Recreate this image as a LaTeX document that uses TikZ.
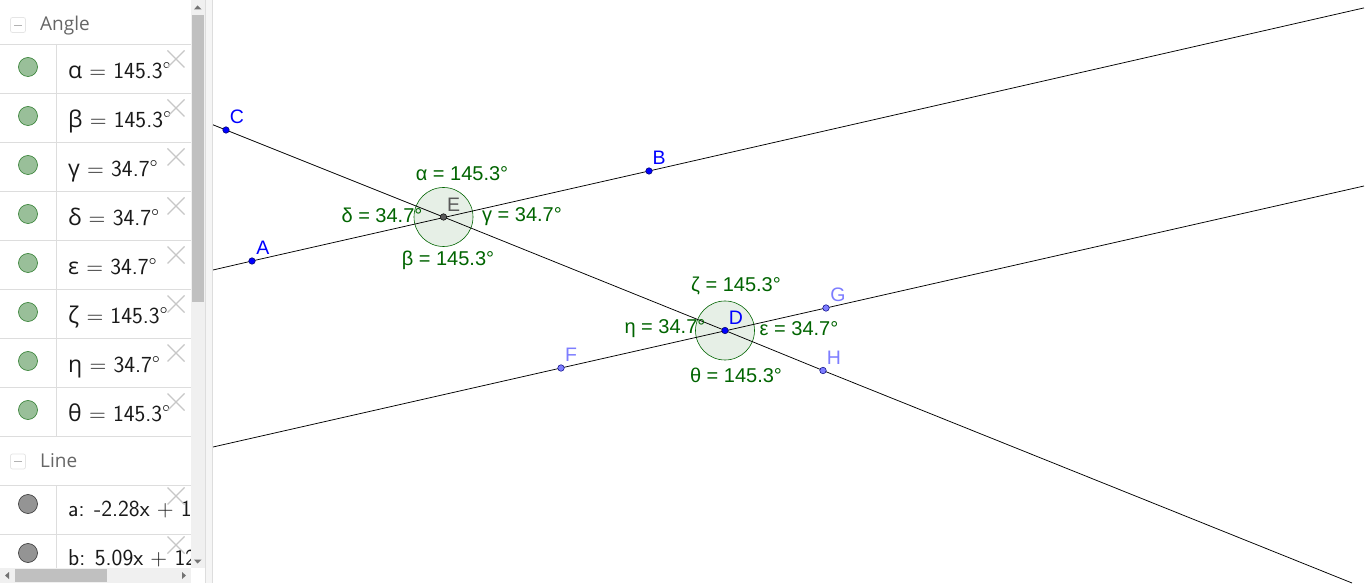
\documentclass[tikz,border=0pt]{standalone}
\usepackage{fontspec}
\setmainfont{Liberation Sans}
\setsansfont{Latin Modern Sans}
\newfontfamily\grk{Open Sans}
\newfontfamily\head{Open Sans}
\definecolor{angfill}{HTML}{E6EFE6}
\definecolor{anggreen}{HTML}{006400}
\definecolor{ptfill}{HTML}{7D7DFF}
\definecolor{rowline}{HTML}{DDDDDD}
\definecolor{bulletfill}{HTML}{99BF99}
\definecolor{bulletedge}{HTML}{2E7D2E}
\definecolor{scrolltrack}{HTML}{F0F0F0}
\definecolor{thumb}{HTML}{C0C0C0}
\tikzset{
  x=1pt,y=-1pt,
  geoline/.style={draw=black,line width=0.75pt},
  angcircle/.style={circle,draw=anggreen,fill=angfill,line width=0.6pt,minimum size=59pt,inner sep=0pt},
  pointblue/.style={circle,draw=black!60!blue,fill=blue,line width=0.5pt,minimum size=6.5pt,inner sep=0pt},
  pointlight/.style={circle,draw=black!50!blue,fill=ptfill,line width=0.5pt,minimum size=6.5pt,inner sep=0pt},
  pointdark/.style={circle,draw=black,fill=black!65,line width=0.5pt,minimum size=6.5pt,inner sep=0pt},
  ptlabel/.style={text=blue,font=\fontsize{19.5}{19.5}\selectfont,inner sep=0pt},
  ptlabellight/.style={text=ptfill,font=\fontsize{19.5}{19.5}\selectfont,inner sep=0pt},
  anglabel/.style={text=anggreen,font=\fontsize{20}{20}\selectfont,inner sep=0pt},
  rowtext/.style={anchor=base west,text=black!90,font=\sffamily\fontsize{23}{23}\selectfont,inner sep=0pt},
  heading/.style={anchor=base west,text=black!60,font=\head\fontsize{19}{19}\selectfont,inner sep=0pt},
  bulletgreen/.style={circle,draw=bulletedge,fill=bulletfill,line width=0.6pt,minimum size=19pt,inner sep=0pt},
  bulletgray/.style={circle,draw=black!80,fill=black!42,line width=0.6pt,minimum size=19pt,inner sep=0pt},
  rowrule/.style={draw=rowline,line width=0.8pt},
  crossmark/.style={draw=black!22,line width=1.4pt},
  collapsebox/.style={draw=black!10,rounded corners=2pt,line width=0.7pt,minimum size=15pt,inner sep=0pt},
  collapsebar/.style={draw=black!30,line width=0.9pt},
  triangle/.style={fill=black!55,draw=none},
}
\newcommand{\gk}[1]{{\grk #1}}
\newcommand{\crossat}[2]{\draw[crossmark] (#1-8.5,#2-8.5) -- (#1+8.5,#2+8.5) (#1+8.5,#2-8.5) -- (#1-8.5,#2+8.5);}
\begin{document}
\begin{tikzpicture}
\useasboundingbox (0,0) rectangle (1366,585);
\fill[white] (0,0) rectangle (1366,585);

% graphics view
\node[angcircle] (circE) at (443.5,217) {};
\node[angcircle] (circD) at (725,330.5) {};

\coordinate (abL) at (213,270);
\coordinate (abR) at (1364,7.9);
\coordinate (cdL) at (213,124.8);
\coordinate (cdR) at (1352,583);
\coordinate (fgL) at (213,447);
\coordinate (fgR) at (1364,186);

\coordinate (A) at (252,261);
\coordinate (B) at (649,171);
\coordinate (C) at (226,130);
\coordinate (E) at (443.5,217);
\coordinate (D) at (725,330.5);
\coordinate (F) at (561,368);
\coordinate (G) at (826,308);
\coordinate (H) at (823,370.5);

\draw[geoline] (abL) -- (A) -- (B) -- (abR);
\draw[geoline] (cdL) -- (C) -- (E) -- (D) -- (H) -- (cdR);
\draw[geoline] (fgL) -- (F) -- (G) -- (fgR);

\node[pointblue] (pA) at (A) {};
\node[pointblue] (pB) at (B) {};
\node[pointblue] (pC) at (C) {};
\node[pointdark] (pE) at (E) {};
\node[pointblue] (pD) at (D) {};
\node[pointlight] (pF) at (F) {};
\node[pointlight] (pG) at (G) {};
\node[pointlight] (pH) at (H) {};

\node[ptlabel] (lA) at (263,248) {A};
\node[ptlabel] (lB) at (659,158) {B};
\node[ptlabel] (lC) at (237,117) {C};
\node[ptlabel,text=black!65] (lE) at (453.5,205) {E};
\node[ptlabel] (lD) at (736,318) {D};
\node[ptlabellight] (lF) at (571,355) {F};
\node[ptlabellight] (lG) at (838,295) {G};
\node[ptlabellight] (lH) at (834,358) {H};

\node[anglabel] (la) at (462,173.5) {α = 145.3°};
\node[anglabel] (lb) at (448,260) {β = 145.3°};
\node[anglabel] (lg) at (522,216.5) {γ = 34.7°};
\node[anglabel] (ld) at (382,215) {δ = 34.7°};
\node[anglabel] (le) at (799,328.5) {ε = 34.7°};
\node[anglabel] (lz) at (736,285.5) {ζ = 145.3°};
\node[anglabel] (lh) at (665,329) {η = 34.7°};
\node[anglabel] (lt) at (736,375) {θ = 145.3°};

% algebra panel
\fill[white] (0,0) rectangle (191,585);
\foreach \yy in {44,93,142,191,240,289,338,387,436,485,534}
  {\draw[rowrule] (0,\yy) -- (191,\yy);}
\foreach \ya/\yb in {44/436,485/568}
  {\draw[rowrule] (56.7,\ya) -- (56.7,\yb);}

\node[collapsebox] (boxA) at (18,25) {};
\draw[collapsebar] (14,25) -- (22,25);
\node[heading] (hA) at (40,31) {Angle};
\node[collapsebox] (boxL) at (18,461.5) {};
\draw[collapsebar] (14,461.5) -- (22,461.5);
\node[heading] (hL) at (40,467) {Line};

\foreach \yy in {67,116,165,214,263,312,361,410}
  {\node[bulletgreen] at (28,\yy) {};}
\foreach \yy in {504,553}
  {\node[bulletgray] at (28,\yy) {};}

\begin{scope}
\clip (0,0) rectangle (191,568);
\node[rowtext] (r1) at (68,78.5) {\gk{α} = 145.3°};
\node[rowtext] (r2) at (68,127.5) {\gk{β} = 145.3°};
\node[rowtext] (r3) at (68,176.5) {\gk{γ} = 34.7°};
\node[rowtext] (r4) at (68,225.5) {\gk{δ} = 34.7°};
\node[rowtext] (r5) at (68,274.5) {\gk{ε} = 34.7°};
\node[rowtext] (r6) at (68,323.5) {\gk{ζ} = 145.3°};
\node[rowtext] (r7) at (68,372.5) {\gk{η} = 34.7°};
\node[rowtext] (r8) at (68,421.5) {\gk{θ} = 145.3°};
\node[rowtext] (r9) at (68,516) {a: -2.28x + 12.5};
\node[rowtext] (r10) at (68,565) {b: 5.09x + 12.5};
\foreach \yy in {59,108,157,206,255,304,353,402,496,545}
  {\crossat{176}{\yy}}
\end{scope}

% scrollbars
\fill[scrolltrack] (191,0) rectangle (205,568);
\fill[thumb] (192,15) rectangle (203.5,302);
\fill[triangle] (197.5,5.5) -- (194,9.5) -- (201.5,9.5) -- cycle;
\fill[triangle] (197.5,563.5) -- (194,559.5) -- (201.5,559.5) -- cycle;
\fill[scrolltrack] (0,568) rectangle (191,583);
\fill[thumb] (15,569) rectangle (107,582);
\fill[triangle] (5,575.5) -- (9,572) -- (9,579) -- cycle;
\fill[triangle] (186,575.5) -- (182,572) -- (182,579) -- cycle;
\fill[white] (191,568) rectangle (205,585);
\fill[white] (0,583) rectangle (213,585);
% divider
\fill[black!4] (206,0) rectangle (212,583);
\draw[rowline,line width=0.8pt] (205.5,0) -- (205.5,583);
\draw[rowline,line width=0.8pt] (212.5,0) -- (212.5,583);
\end{tikzpicture}
\end{document}
